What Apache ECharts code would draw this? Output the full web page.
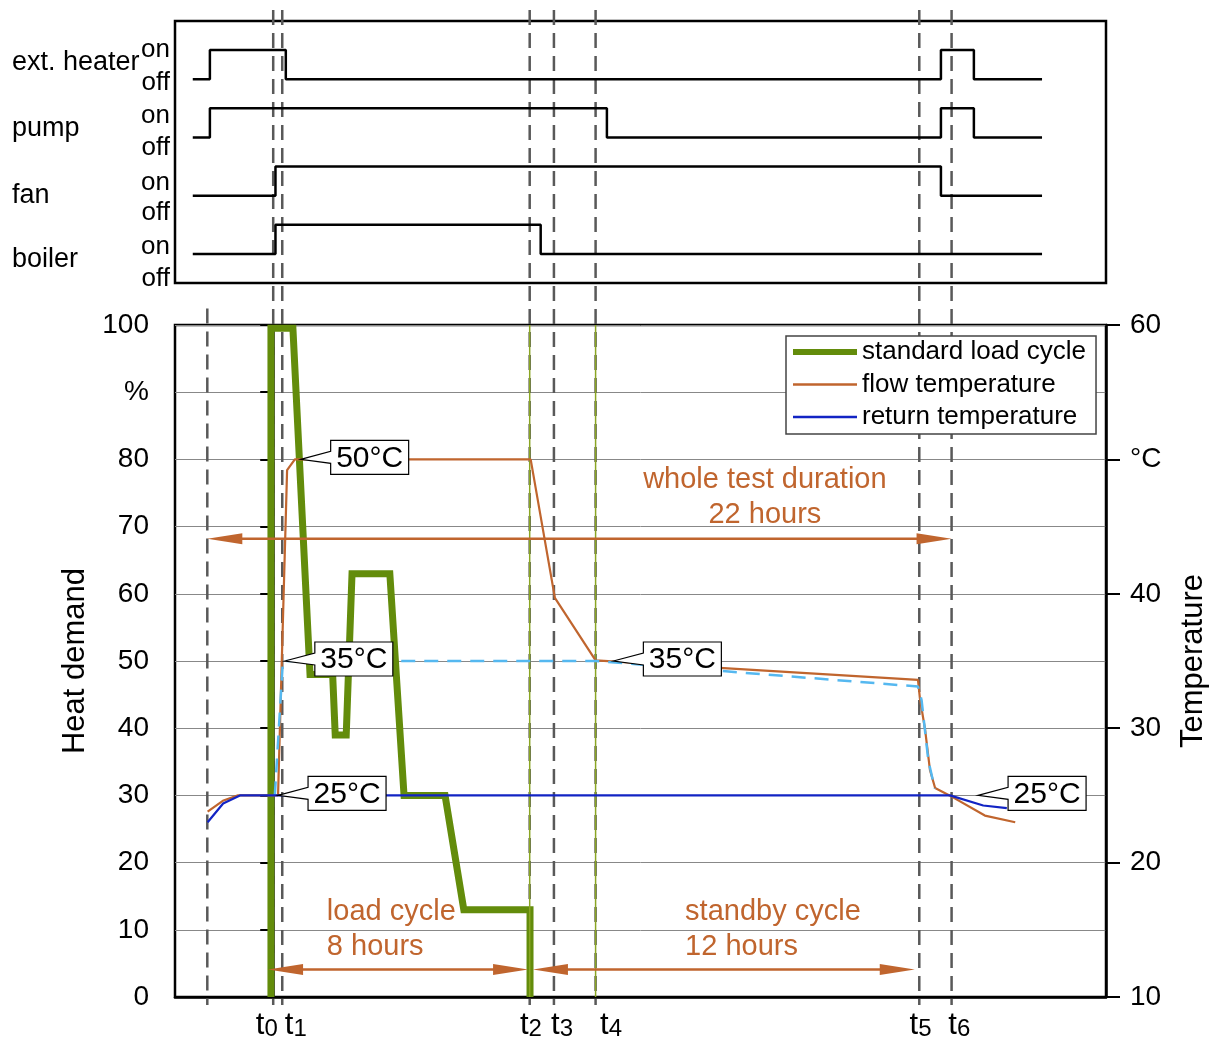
<!DOCTYPE html>
<html>
<head>
<meta charset="utf-8">
<title>Load cycle test</title>
<script src="https://cdn.jsdelivr.net/npm/echarts@6/dist/echarts.min.js"></script>
<style>
  html, body { margin: 0; padding: 0; background: #fff; }
  #chart { width: 1211px; height: 1048px; }
</style>
</head>
<body>
<div id="chart"></div>
<script>
// time in hours, t0 = 0
const xMin = -3.04, xMax = 25.78;

// vertical marker lines (start of pre-heating, t0..t6)
const markerTimes = [-2.04, 0, 0.28, 7.94, 8.69, 9.98, 20, 21];
const markerTops = [0.7, 1, 1, 1, 1, 1, 1, 1];
const tickLabels = ['0', '1', '2', '3', '4', '5', '6'];
const tickLabelPos = [-0.2, 0.7, 7.98, 8.94, 10.46, 20.04, 21.24];

// on/off signals
const signalNames = ['ext. heater', 'pump', 'fan', 'boiler'];
const heaterTimes = [-2.49, -1.96, 0.39, 20.67, 21.69, 23.8];
const heaterStates = [0, 1, 0, 1, 0, 0];
const pumpTimes = [-2.49, -1.96, 10.33, 20.67, 21.69, 23.8];
const pumpStates = [0, 1, 0, 1, 0, 0];
const fanTimes = [-2.49, 0.07, 20.67, 23.8];
const fanStates = [0, 1, 0, 0];
const boilerTimes = [-2.49, 0.07, 8.28, 23.8];
const boilerStates = [0, 1, 0, 0];
const stateLabels = ['on', 'off', 'on', 'off', 'on', 'off', 'on', 'off'];

// standard load cycle, % heat demand
const loadTime = [-0.07, -0.07, 0.61, 1.14, 1.84, 1.92, 2.26, 2.44, 3.61, 4.05, 5.32, 5.9, 7.95, 7.95];
const loadPct = [0, 99.5, 99.5, 48, 48, 39, 39, 63, 63, 30, 30, 13, 13, 0];
const cycleBoundTimes = [7.94, 9.98];

// flow temperature, °C
const flowTime = [-2.03, -1.56, -1.09, 0.15, 0.43, 0.67, 7.97, 8.72, 9.98, 19.96, 20.02, 20.18, 20.33, 20.49, 20.95, 22.03, 22.97];
const flowTemp = [23.8, 24.6, 25.0, 25.0, 49.2, 50.0, 50.0, 39.7, 35.05, 33.6, 32.2, 29.9, 26.9, 25.55, 24.98, 23.5, 23.0];

// return temperature, °C
const returnTime = [-2.03, -1.55, -1.03, 20.95, 21.98, 22.71];
const returnTemp = [23.0, 24.4, 25.0, 25.0, 24.25, 24.05];

// return temperature (dashed), °C
const dashTime = [0.05, 0.3, 9.98, 19.96, 20.07, 20.28, 20.48];
const dashTemp = [25, 35, 35, 33.1, 32.1, 27.6, 25.5];

// duration arrows (% axis)
const arrowFrom = [-2.04, -0.16, 8.04];
const arrowTo = [21.0, 7.89, 19.86];
const arrowLevel = [68.2, 4.1, 4.1];

const noteText = ['whole test duration\n22 hours', 'load cycle\n8 hours', 'standby cycle\n12 hours'];
const noteX = [15.22, 1.66, 12.75];
const noteY = [74.4, 10.0, 10.0];

const calloutText = ['50°C', '35°C', '25°C', '35°C', '25°C'];
const calloutX = [0.85, 0.36, 0.15, 10.53, 21.82];
const calloutTemp = [50, 35, 25, 35, 25];

// styles / placement
const FONT = '"Liberation Sans", Arial, sans-serif';
const GREEN = '#638C0B', BROWN = '#C0652E', BLUE = '#1224C4', LIGHTBLUE = '#55B8F0';
const laneBase = [7, 5, 3, 1];
const stateLabelPos = [8.0, 6.88, 5.74, 4.65, 3.45, 2.41, 1.24, 0.14];
const signalNamePos = [7.57, 5.29, 3.02, 0.79];
const noteAlign = ['center', 'left', 'left'];

function nearest(list, v) {
  let best = 0;
  list.forEach((p, i) => { if (Math.abs(p - v) < Math.abs(list[best] - v)) best = i; });
  return best;
}
const pairs = (xs, ys) => xs.map((x, i) => [x, ys[i]]);

const chart = echarts.init(document.getElementById('chart'), null, { width: 1211, height: 1048 });

const signalSeries = [
  [heaterTimes, heaterStates], [pumpTimes, pumpStates], [fanTimes, fanStates], [boilerTimes, boilerStates]
].map((s, k) => ({
  name: signalNames[k],
  type: 'line',
  xAxisIndex: 1, yAxisIndex: 2,
  step: 'end',
  symbol: 'none',
  silent: true,
  lineStyle: { color: '#000', width: 2.5 },
  data: s[0].map((t, i) => [t, laneBase[k] + s[1][i]])
}));

const boundData = [];
cycleBoundTimes.forEach((t, i) => {
  if (i > 0) boundData.push(['-', '-']);
  boundData.push([t, 0], [t, 100]);
});

const option = {
  animation: false,
  backgroundColor: '#fff',
  textStyle: { fontFamily: FONT },
  grid: [
    { left: 175, top: 325, width: 931, height: 672, show: true, borderColor: '#000', borderWidth: 2.5, outerBoundsMode: 'none' },
    { left: 175, top: 21, width: 931, height: 262, show: true, borderColor: '#000', borderWidth: 2.5, outerBoundsMode: 'none' },
    { left: 175, top: 10, width: 931, height: 995, outerBoundsMode: 'none' }
  ],
  legend: {
    left: 786, top: 336, orient: 'vertical',
    backgroundColor: '#fff', borderColor: '#444', borderWidth: 1.5,
    padding: [3, 10, 4, 4], itemWidth: 64, itemHeight: 14, itemGap: 6.5,
    textStyle: { fontSize: 26, color: '#000', lineHeight: 26, fontFamily: FONT },
    itemStyle: { opacity: 0 },
    z: 10,
    data: [
      { name: 'standard load cycle', lineStyle: { width: 6 } },
      { name: 'flow temperature', lineStyle: { width: 2.5 } },
      { name: 'return temperature', lineStyle: { width: 2.5 } }
    ]
  },
  xAxis: [
    {
      type: 'value', gridIndex: 0, min: xMin, max: xMax,
      axisLine: { show: true, onZero: false, lineStyle: { color: '#000', width: 2.5 } },
      axisTick: { show: false },
      splitLine: { show: false },
      axisLabel: {
        customValues: tickLabelPos,
        margin: 13,
        formatter: v => '{t|t}{s|' + tickLabels[nearest(tickLabelPos, v)] + '}',
        rich: {
          t: { fontSize: 31, lineHeight: 31, verticalAlign: 'top', color: '#000', fontFamily: FONT },
          s: { fontSize: 24, lineHeight: 24, verticalAlign: 'bottom', padding: [16, 0, 0, 0], color: '#000', fontFamily: FONT }
        }
      }
    },
    { type: 'value', gridIndex: 1, min: xMin, max: xMax, show: false },
    { type: 'value', gridIndex: 2, min: xMin, max: xMax, show: false }
  ],
  yAxis: [
    {
      type: 'value', gridIndex: 0, position: 'left', min: 0, max: 100, interval: 10,
      name: 'Heat demand', nameLocation: 'middle', nameGap: 80,
      nameTextStyle: { fontSize: 31, color: '#000', fontFamily: FONT },
      axisLine: { show: true, lineStyle: { color: '#000', width: 2.5 } },
      axisTick: { show: true, length: 13, lineStyle: { color: '#000', width: 2 } },
      splitLine: { show: true, lineStyle: { color: '#888', width: 1 } },
      axisLabel: {
        fontSize: 28, color: '#000', margin: 26, fontFamily: FONT,
        formatter: v => (Math.round(v) === 90 ? '%' : String(Math.round(v)))
      }
    },
    {
      type: 'value', gridIndex: 0, position: 'right', min: 10, max: 60, interval: 10,
      name: 'Temperature', nameLocation: 'middle', nameGap: 72,
      nameTextStyle: { fontSize: 31, color: '#000', fontFamily: FONT },
      axisLine: { show: true, lineStyle: { color: '#000', width: 2.5 } },
      axisTick: { show: true, length: 14, lineStyle: { color: '#000', width: 2 } },
      splitLine: { show: false },
      axisLabel: {
        fontSize: 28, color: '#000', margin: 24, fontFamily: FONT,
        formatter: v => (Math.round(v) === 50 ? '°C' : String(Math.round(v)))
      }
    },
    {
      type: 'value', gridIndex: 1, position: 'left', min: 0, max: 9,
      axisLine: { show: false }, axisTick: { show: false }, splitLine: { show: false },
      axisLabel: {
        customValues: stateLabelPos, margin: 5, fontSize: 26, color: '#000', fontFamily: FONT,
        formatter: v => stateLabels[nearest(stateLabelPos, v)]
      }
    },
    {
      type: 'value', gridIndex: 1, position: 'left', offset: 0, min: 0, max: 9,
      axisLine: { show: false }, axisTick: { show: false }, splitLine: { show: false },
      axisLabel: {
        customValues: signalNamePos, margin: 163, align: 'left', fontSize: 27, color: '#000', fontFamily: FONT,
        formatter: v => signalNames[nearest(signalNamePos, v)]
      }
    },
    { type: 'value', gridIndex: 2, min: 0, max: 1, show: false }
  ],
  series: [
    ...signalSeries,
    {
      name: 'standard load cycle', type: 'line', xAxisIndex: 0, yAxisIndex: 0,
      symbol: 'none', silent: true,
      lineStyle: { color: GREEN, width: 7, join: 'miter' },
      itemStyle: { color: GREEN },
      data: pairs(loadTime, loadPct)
    },
    {
      name: 'cycle bounds', type: 'line', xAxisIndex: 0, yAxisIndex: 0,
      symbol: 'none', silent: true, connectNulls: false,
      lineStyle: { color: '#8AA524', width: 1.5 },
      data: boundData
    },
    {
      name: 'flow temperature', type: 'line', xAxisIndex: 0, yAxisIndex: 1,
      symbol: 'none', silent: true,
      lineStyle: { color: BROWN, width: 2.2 },
      itemStyle: { color: BROWN },
      data: pairs(flowTime, flowTemp)
    },
    {
      name: 'return set', type: 'line', xAxisIndex: 0, yAxisIndex: 1,
      symbol: 'none', silent: true,
      lineStyle: { color: LIGHTBLUE, width: 2.5, type: [14, 9] },
      data: pairs(dashTime, dashTemp)
    },
    {
      name: 'return temperature', type: 'line', xAxisIndex: 0, yAxisIndex: 1,
      symbol: 'none', silent: true,
      lineStyle: { color: BLUE, width: 2.2 },
      itemStyle: { color: BLUE },
      data: pairs(returnTime, returnTemp)
    },
    {
      // dashed time markers over both panels
      type: 'custom', xAxisIndex: 2, yAxisIndex: 4, z: 3, silent: true,
      data: markerTimes.map((t, i) => [t, 0, markerTops[i]]),
      encode: { x: 0, y: [1, 2] },
      renderItem: (params, api) => {
        const bottom = api.coord([api.value(0), api.value(1)]);
        const top = api.coord([api.value(0), api.value(2)]);
        return {
          type: 'line',
          shape: { x1: top[0], y1: top[1], x2: bottom[0], y2: bottom[1] },
          style: { stroke: '#595959', lineWidth: 2.5, lineDash: [15, 8] }
        };
      }
    },
    {
      // duration arrows
      type: 'custom', xAxisIndex: 0, yAxisIndex: 0, z: 4, silent: true,
      data: arrowFrom.map((x, i) => [x, arrowTo[i], arrowLevel[i]]),
      encode: { x: [0, 1], y: 2 },
      renderItem: (params, api) => {
        const a = api.coord([api.value(0), api.value(2)]);
        const b = api.coord([api.value(1), api.value(2)]);
        const L = 35, H = 5.5;
        return {
          type: 'group',
          children: [
            { type: 'line', shape: { x1: a[0] + L - 2, y1: a[1], x2: b[0] - L + 2, y2: b[1] }, style: { stroke: BROWN, lineWidth: 2.5 } },
            { type: 'polygon', shape: { points: [[a[0], a[1]], [a[0] + L, a[1] - H], [a[0] + L, a[1] + H]] }, style: { fill: BROWN } },
            { type: 'polygon', shape: { points: [[b[0], b[1]], [b[0] - L, b[1] - H], [b[0] - L, b[1] + H]] }, style: { fill: BROWN } }
          ]
        };
      }
    },
    {
      // annotation texts
      type: 'custom', xAxisIndex: 0, yAxisIndex: 0, z: 4, silent: true,
      data: noteX.map((x, i) => [x, noteY[i]]),
      renderItem: (params, api) => {
        const p = api.coord([api.value(0), api.value(1)]);
        return {
          type: 'text', x: p[0], y: p[1],
          style: {
            text: noteText[params.dataIndex], fill: BROWN, fontSize: 29, fontFamily: FONT,
            align: noteAlign[params.dataIndex], verticalAlign: 'middle', lineHeight: 35
          }
        };
      }
    },
    {
      // temperature callouts
      type: 'custom', xAxisIndex: 0, yAxisIndex: 1, z: 6, silent: true,
      data: calloutX.map((x, i) => [x, calloutTemp[i]]),
      renderItem: (params, api) => {
        const p = api.coord([api.value(0), api.value(1)]);
        const bx = p[0] + 30, cy = p[1] - 2, w = 78, h = 34, n = 6;
        const pts = [[p[0], p[1]], [bx, cy - n], [bx, cy - h / 2], [bx + w, cy - h / 2],
          [bx + w, cy + h / 2], [bx, cy + h / 2], [bx, cy + n]];
        return {
          type: 'group',
          children: [
            { type: 'polygon', shape: { points: pts }, style: { fill: '#fff', stroke: '#000', lineWidth: 1.2 } },
            {
              type: 'text', x: bx + w / 2, y: cy + 1,
              style: { text: calloutText[params.dataIndex], fill: '#000', fontSize: 30, fontFamily: FONT, align: 'center', verticalAlign: 'middle' }
            }
          ]
        };
      }
    }
  ]
};

chart.setOption(option);
</script>
</body>
</html>
